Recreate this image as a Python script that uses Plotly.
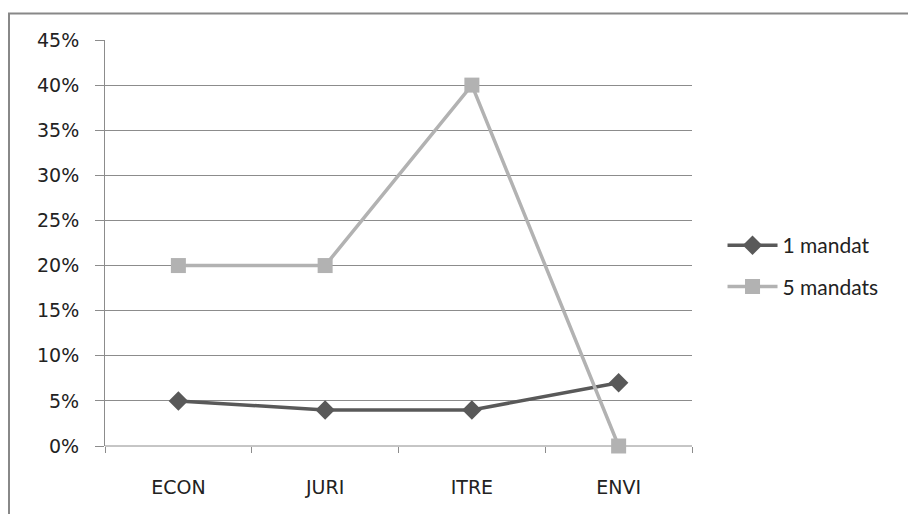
import plotly.graph_objects as go

categories = ["ECON", "JURI", "ITRE", "ENVI"]
one_mandate = [0.05, 0.04, 0.04, 0.07]
five_mandates = [0.20, 0.20, 0.40, 0.00]
y_ticks = [0, 0.05, 0.10, 0.15, 0.20, 0.25, 0.30, 0.35, 0.40, 0.45]
y_labels = ["0%", "5%", "10%", "15%", "20%", "25%", "30%", "35%", "40%", "45%"]

axis_font = "Verdana, DejaVu Sans, sans-serif"
legend_font = "Lato"
grid_color = "#8c8c8c"

fig = go.Figure()
fig.add_trace(go.Scatter(
    x=categories, y=one_mandate, name="1 mandat", legendgroup="a",
    mode="lines+markers", cliponaxis=False,
    line=dict(color="#595959", width=3.5),
    marker=dict(symbol="diamond", size=15, color="#595959"),
))
fig.add_trace(go.Scatter(
    x=categories, y=five_mandates, name="5 mandats", legendgroup="b",
    mode="lines+markers", cliponaxis=False,
    line=dict(color="#b2b2b2", width=3.5),
    marker=dict(symbol="square", size=15, color="#b2b2b2"),
))

fig.update_layout(
    width=908, height=514,
    margin=dict(l=105, r=216, t=40, b=68, autoexpand=False),
    paper_bgcolor="white", plot_bgcolor="white",
    font=dict(family=axis_font, size=19, color="#222222"),
    showlegend=True,
    legend=dict(
        x=1.052, y=0.443, xanchor="left", yanchor="middle",
        font=dict(family=legend_font, size=21, color="#222222"),
        traceorder="grouped", tracegroupgap=11, itemwidth=50,
        bgcolor="rgba(0,0,0,0)",
    ),
    xaxis=dict(
        type="category", range=[-0.5, 3.5], automargin=False,
        showgrid=False, showline=False, zeroline=False,
        ticks="outside", tickson="boundaries", ticklen=6,
        tickcolor=grid_color, tickwidth=1,
        tickfont=dict(family=axis_font, size=19, color="#222222"),
        ticklabelstandoff=28,
    ),
    yaxis=dict(
        range=[0, 0.45], tickvals=y_ticks, ticktext=y_labels, automargin=False,
        showgrid=True, gridcolor=grid_color, gridwidth=1,
        zeroline=False, showline=True, linecolor=grid_color, linewidth=1,
        ticks="outside", ticklen=9, tickcolor=grid_color,
        tickfont=dict(family=axis_font, size=19, color="#222222"),
        ticklabelstandoff=12,
    ),
    shapes=[
        dict(type="line", xref="paper", yref="paper",
             x0=0, x1=1, y0=0, y1=0, line=dict(color=grid_color, width=1),
             layer="below"),
        dict(type="rect", xref="paper", yref="paper",
             x0=-96 / 587, x1=(908 + 10 - 105) / 587,
             y0=-(514 + 10 - 446) / 406, y1=(446 - 13.5) / 406,
             line=dict(color="#888888", width=2), fillcolor="rgba(0,0,0,0)",
             layer="below"),
    ],
)

fig.write_html("out.html")
